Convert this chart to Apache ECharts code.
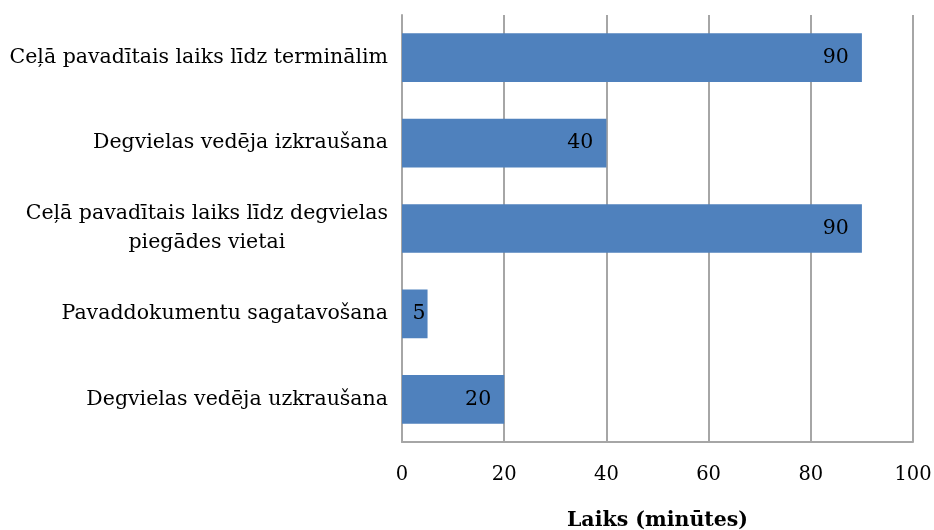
<!DOCTYPE html>
<html>
<head>
<meta charset="utf-8">
<script src="https://cdn.jsdelivr.net/npm/echarts@6/dist/echarts.min.js"></script>
<style>
  html, body { margin: 0; padding: 0; background: #fff; }
  #chart { width: 934px; height: 530px; }
</style>
</head>
<body>
<div id="chart"></div>
<script>
// kategorijas no augšas uz leju
var categories = [
  'Ceļā pavadītais laiks līdz terminālim',
  'Degvielas vedēja izkraušana',
  'Ceļā pavadītais laiks līdz degvielas\npiegādes vietai',
  'Pavaddokumentu sagatavošana',
  'Degvielas vedēja uzkraušana'
]
var values = [90, 40, 90, 5, 20]
var axisTitle = 'Laiks (minūtes)'

var font = '"DejaVu Serif", serif'
var myChart = echarts.init(document.getElementById('chart'))

var option = {
  animation: false,
  grid: {
    left: 402,
    right: 21,
    top: 15,
    bottom: 88,
    outerBoundsMode: 'none'
  },
  xAxis: {
    type: 'value',
    min: 0,
    max: 100,
    interval: 20,
    name: axisTitle,
    nameLocation: 'middle',
    nameGap: 68,
    nameTextStyle: {
      color: '#000',
      fontFamily: font,
      fontSize: 20.5,
      fontWeight: 'bold'
    },
    axisLine: { show: true, lineStyle: { color: '#a6a6a6', width: 2 } },
    axisTick: { show: false },
    splitLine: { show: true, lineStyle: { color: '#a6a6a6', width: 2 } },
    axisLabel: {
      color: '#000',
      fontFamily: font,
      fontSize: 19.5,
      margin: 23
    }
  },
  yAxis: {
    type: 'category',
    inverse: true,
    data: categories,
    axisLine: { show: true, lineStyle: { color: '#a6a6a6', width: 2 } },
    axisTick: { show: false },
    axisLabel: {
      color: '#000',
      fontFamily: font,
      fontSize: 20.5,
      margin: 14,
      formatter: function (v) {
        return v.split('\n').map(function (s) { return '{c|' + s + '}' }).join('\n')
      },
      rich: {
        c: {
          align: 'center',
          color: '#000',
          fontFamily: font,
          fontSize: 20.5,
          lineHeight: 29
        }
      }
    }
  },
  series: [
    {
      type: 'bar',
      data: values.map(function (v) {
        if (v < 10) {
          return { value: v, label: { distance: 2 } }
        }
        return v
      }),
      barCategoryGap: '43%',
      itemStyle: { color: '#4f81bd' },
      label: {
        show: true,
        position: 'insideRight',
        distance: 13,
        color: '#000',
        fontFamily: font,
        fontSize: 20.5
      }
    }
  ]
}
myChart.setOption(option)
window.onresize = myChart.resize
</script>
</body>
</html>
